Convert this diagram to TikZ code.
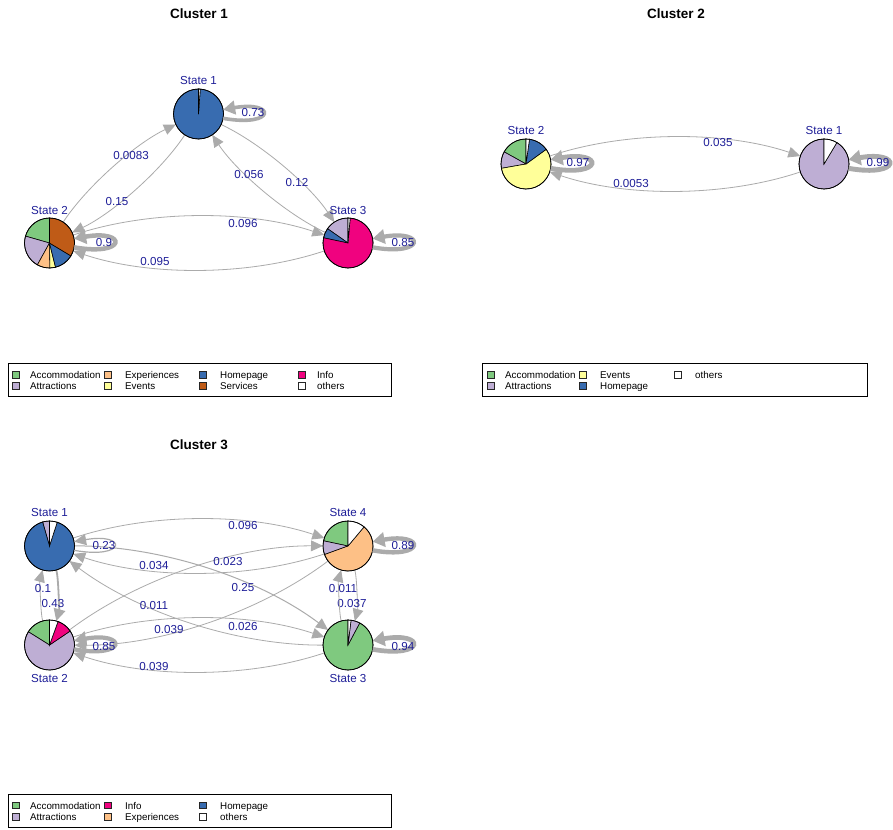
\documentclass[tikz,border=0pt]{standalone}
\usepackage{fontspec}
\setmainfont{Liberation Sans}
\usetikzlibrary{arrows.meta,calc}
\definecolor{acc}{HTML}{7FC97F}
\definecolor{att}{HTML}{BEAED4}
\definecolor{exps}{HTML}{FDC086}
\definecolor{evt}{HTML}{FFFF99}
\definecolor{hom}{HTML}{386CB0}
\definecolor{inf}{HTML}{F0027F}
\definecolor{ser}{HTML}{BF5B17}
\definecolor{oth}{HTML}{FFFFFF}
\definecolor{edgegray}{HTML}{ABABAB}
\definecolor{labblue}{HTML}{1E1E98}
% transition edge: from, to, bulge, width, label position, label
\newcommand\tedge[6]{%
  \coordinate (k#1#2) at ($(#1)!0.5!(#2)!#3pt!90:(#2)$);
  \draw[tedge,line width=#4pt] (#1) .. controls ($(#1)!0.6667!(k#1#2)$) and ($(#2)!0.6667!(k#1#2)$) .. (#2);
  \node[elab] (l#1#2) at (#5) {#6};
}
% self loop: node, width, label position, label
\newcommand\selfloop[4]{%
  \draw[tedge,line width=#2pt] (#1.-10) .. controls +(-10:54pt) and +(10:54pt) .. (#1.10);
  \node[elab] (l#1) at (#3) {#4};
}
\newcommand\slice[4]{%
  \filldraw[fill=#4,draw=black,line width=0.6pt] (#1.center) -- ++(#2:25pt) arc[start angle=#2,end angle=#3,radius=25pt] -- cycle;
}
\newcommand\rim[1]{\draw[line width=0.7pt] (#1.center) circle[radius=25pt];}
\begin{document}
\begin{tikzpicture}[x=1pt,y=1pt,
  stnode/.style={circle,minimum size=50pt,inner sep=0pt,outer sep=0pt},
  tedge/.style={draw=edgegray,-{Triangle[length=12pt,width=10pt 1]}},
  elab/.style={text=labblue,font=\fontsize{11.6}{13}\selectfont,inner sep=0pt},
  slab/.style={text=labblue,font=\fontsize{11.6}{13}\selectfont,inner sep=0pt},
  ttl/.style={font=\fontsize{13.5}{16}\selectfont\bfseries,inner sep=0pt},
  legbox/.style={draw=black,line width=0.8pt},
  legsq/.style={draw=black!85,line width=0.6pt,minimum size=6.5pt,inner sep=0pt},
  legtx/.style={font=\fontsize{9.8}{11}\selectfont,anchor=west,inner sep=0pt,text height=7pt,text depth=0pt}]
\useasboundingbox (0,0) rectangle (893,-829);
\fill[white] (0,0) rectangle (893,-829);

% ---------- titles
\node[ttl] (t1) at (199,-14) {Cluster 1};
\node[ttl] (t2) at (676,-14) {Cluster 2};
\node[ttl] (t3) at (199,-445) {Cluster 3};

% ---------- state nodes
\node[stnode] (c1s1) at (198.5,-114) {};
\node[stnode] (c1s2) at (49.5,-243) {};
\node[stnode] (c1s3) at (348,-243) {};
\node[stnode] (c2s2) at (526,-164) {};
\node[stnode] (c2s1) at (824,-164) {};
\node[stnode] (c3s1) at (49.5,-546) {};
\node[stnode] (c3s4) at (348,-546) {};
\node[stnode] (c3s2) at (49.5,-645) {};
\node[stnode] (c3s3) at (348,-645) {};

% ---------- cluster 1 edges
\tedge{c1s2}{c1s1}{28}{0.8}{131,-156}{0.0083}
\tedge{c1s1}{c1s2}{28}{0.8}{117,-202}{0.15}
\tedge{c1s1}{c1s3}{28}{0.8}{297,-183}{0.12}
\tedge{c1s3}{c1s1}{28}{0.8}{249,-175}{0.056}
\tedge{c1s2}{c1s3}{50}{0.8}{243,-224}{0.096}
\tedge{c1s3}{c1s2}{50}{0.8}{155,-262}{0.095}

% ---------- cluster 2 edges
\tedge{c2s2}{c2s1}{50}{0.8}{718,-143}{0.035}
\tedge{c2s1}{c2s2}{50}{0.8}{631,-184}{0.0053}

% ---------- cluster 3 edges
\tedge{c3s1}{c3s4}{50}{0.8}{243,-526}{0.096}
\tedge{c3s4}{c3s1}{50}{0.8}{154,-566}{0.034}
\tedge{c3s2}{c3s3}{50}{0.8}{243,-626}{0.026}
\tedge{c3s3}{c3s2}{50}{0.8}{154,-666}{0.039}
\tedge{c3s1}{c3s2}{14}{1.8}{53,-603}{0.43}
\tedge{c3s2}{c3s1}{14}{0.8}{43,-588}{0.1}
\tedge{c3s4}{c3s3}{14}{0.8}{352,-603}{0.037}
\tedge{c3s3}{c3s4}{14}{0.8}{343,-588}{0.011}
\tedge{c3s1}{c3s3}{53}{1.0}{243,-587}{0.25}
\tedge{c3s3}{c3s1}{53}{0.8}{154,-605}{0.011}
\tedge{c3s2}{c3s4}{53}{0.8}{228,-562}{0.023}
\tedge{c3s4}{c3s2}{53}{0.8}{169,-629}{0.039}

% ---------- pies
\slice{c1s1}{90}{446}{hom}\slice{c1s1}{446}{450}{oth}\rim{c1s1}
\slice{c1s2}{90}{164}{acc}\slice{c1s2}{164}{241}{att}\slice{c1s2}{241}{271}{exps}
\slice{c1s2}{271}{284}{evt}\slice{c1s2}{284}{329}{hom}\slice{c1s2}{329}{450}{ser}\rim{c1s2}
\slice{c1s3}{90}{145}{att}\slice{c1s3}{145}{168}{hom}\slice{c1s3}{168}{445}{inf}\slice{c1s3}{445}{450}{oth}\rim{c1s3}
\slice{c2s2}{90}{151}{acc}\slice{c2s2}{151}{190}{att}\slice{c2s2}{190}{396}{evt}
\slice{c2s2}{396}{442}{hom}\slice{c2s2}{442}{450}{oth}\rim{c2s2}
\slice{c2s1}{90}{419}{att}\slice{c2s1}{419}{450}{oth}\rim{c2s1}
\slice{c3s1}{90}{106}{att}\slice{c3s1}{106}{432}{hom}\slice{c3s1}{432}{450}{oth}\rim{c3s1}
\slice{c3s2}{90}{148}{acc}\slice{c3s2}{148}{394}{att}\slice{c3s2}{394}{430}{inf}\slice{c3s2}{430}{450}{oth}\rim{c3s2}
\slice{c3s3}{90}{422}{acc}\slice{c3s3}{422}{443}{att}\slice{c3s3}{443}{450}{oth}\rim{c3s3}
\slice{c3s4}{90}{168}{acc}\slice{c3s4}{168}{200}{att}\slice{c3s4}{200}{410}{exps}\slice{c3s4}{410}{450}{oth}\rim{c3s4}

% ---------- self loops
\selfloop{c1s1}{3.6}{253,-113}{0.73}
\selfloop{c1s2}{4.5}{104,-243}{0.9}
\selfloop{c1s3}{4.2}{403,-243}{0.85}
\selfloop{c2s2}{4.8}{578,-163}{0.97}
\selfloop{c2s1}{4.9}{878,-163}{0.99}
\selfloop{c3s1}{1.2}{104,-546}{0.23}
\selfloop{c3s4}{4.4}{403,-546}{0.89}
\selfloop{c3s2}{4.2}{104,-646}{0.85}
\selfloop{c3s3}{4.7}{403,-646}{0.94}

% ---------- state labels
\node[slab] (n11) at (198.5,-81) {State 1};
\node[slab] (n12) at (49.5,-211) {State 2};
\node[slab] (n13) at (348,-211) {State 3};
\node[slab] (n22) at (526,-131) {State 2};
\node[slab] (n21) at (824,-131) {State 1};
\node[slab] (n31) at (49.5,-513) {State 1};
\node[slab] (n34) at (348,-513) {State 4};
\node[slab] (n32) at (49.5,-678) {State 2};
\node[slab] (n33) at (348,-678) {State 3};

% ---------- legend 1
\draw[legbox] (8,-363) rectangle (391,-396);
\node[legsq,fill=acc] (q11) at (16,-374.7) {};  \node[legtx] (x11) at (30,-374.7) {Accommodation};
\node[legsq,fill=att] (q12) at (16,-386) {};    \node[legtx] (x12) at (30,-386) {Attractions};
\node[legsq,fill=exps] (q13) at (108,-374.7) {};\node[legtx] (x13) at (125,-374.7) {Experiences};
\node[legsq,fill=evt] (q14) at (108,-386) {};   \node[legtx] (x14) at (125,-386) {Events};
\node[legsq,fill=hom] (q15) at (203,-374.7) {}; \node[legtx] (x15) at (220,-374.7) {Homepage};
\node[legsq,fill=ser] (q16) at (203,-386) {};   \node[legtx] (x16) at (220,-386) {Services};
\node[legsq,fill=inf] (q17) at (302,-374.7) {}; \node[legtx] (x17) at (317,-374.7) {Info};
\node[legsq,fill=oth] (q18) at (302,-386) {};   \node[legtx] (x18) at (317,-386) {others};

% ---------- legend 2
\draw[legbox] (482,-363) rectangle (867,-396);
\node[legsq,fill=acc] (q21) at (491,-374.7) {}; \node[legtx] (x21) at (505,-374.7) {Accommodation};
\node[legsq,fill=att] (q22) at (491,-386) {};   \node[legtx] (x22) at (505,-386) {Attractions};
\node[legsq,fill=evt] (q23) at (583,-374.7) {}; \node[legtx] (x23) at (600,-374.7) {Events};
\node[legsq,fill=hom] (q24) at (583,-386) {};   \node[legtx] (x24) at (600,-386) {Homepage};
\node[legsq,fill=oth] (q25) at (678,-374.7) {}; \node[legtx] (x25) at (695,-374.7) {others};

% ---------- legend 3
\draw[legbox] (8,-794) rectangle (391,-827);
\node[legsq,fill=acc] (q31) at (16,-805.5) {};  \node[legtx] (x31) at (30,-805.5) {Accommodation};
\node[legsq,fill=att] (q32) at (16,-816.8) {};  \node[legtx] (x32) at (30,-816.8) {Attractions};
\node[legsq,fill=inf] (q33) at (108,-805.5) {}; \node[legtx] (x33) at (125,-805.5) {Info};
\node[legsq,fill=exps] (q34) at (108,-816.8) {};\node[legtx] (x34) at (125,-816.8) {Experiences};
\node[legsq,fill=hom] (q35) at (203,-805.5) {}; \node[legtx] (x35) at (220,-805.5) {Homepage};
\node[legsq,fill=oth] (q36) at (203,-816.8) {}; \node[legtx] (x36) at (220,-816.8) {others};
\end{tikzpicture}
\end{document}
